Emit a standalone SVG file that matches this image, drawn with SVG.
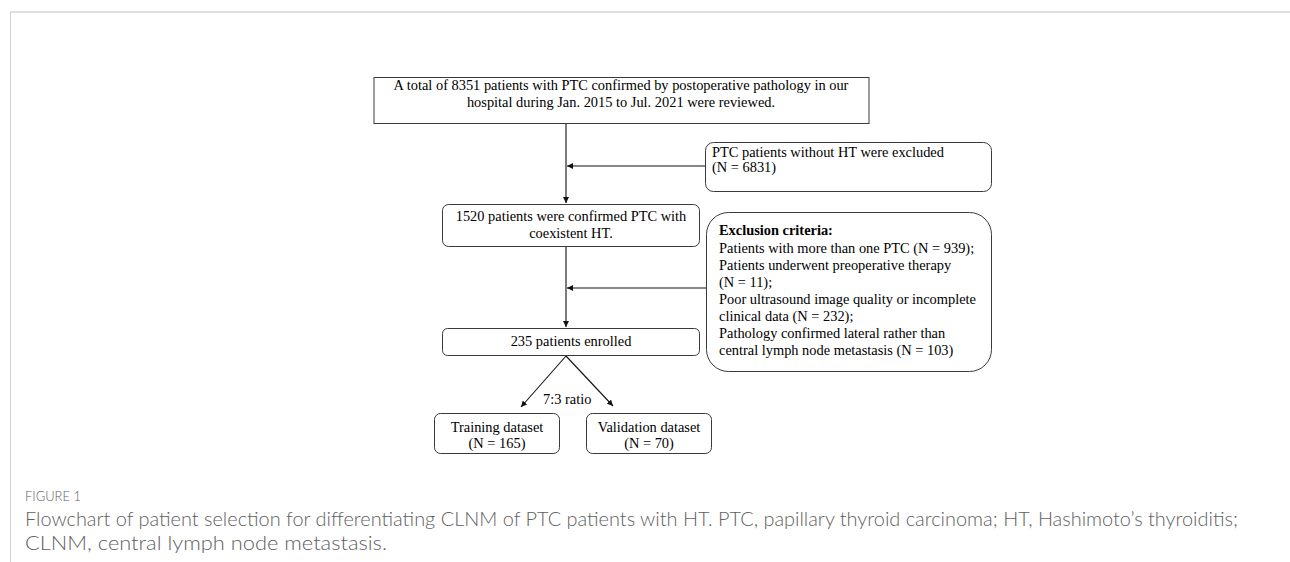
<svg xmlns="http://www.w3.org/2000/svg" width="1290" height="562" viewBox="0 0 1290 562">
<style>
.box{fill:#fff;stroke:#3a3a3a;stroke-width:1}
.t{font-family:"Liberation Serif","Times New Roman",serif;font-size:14.4px;fill:#000}
.c{text-anchor:middle}
.con{stroke:#111;stroke-width:1.1;fill:none}
.cap{font-family:Lato,"Open Sans",sans-serif;fill:#606060;font-weight:300}
</style>
<defs>
<marker id="ah" viewBox="0 0 8 8" refX="8" refY="4" markerWidth="6" markerHeight="6" markerUnits="userSpaceOnUse" orient="auto">
<path d="M0,0 L8,4 L0,8 z" fill="#111"/>
</marker>
</defs>
<rect x="0" y="0" width="1290" height="562" fill="#fff"/>
<g id="frame">
<line x1="10" y1="12" x2="1290" y2="12" stroke="#dedede" stroke-width="2"/>
<line x1="10.5" y1="12" x2="10.5" y2="562" stroke="#d0d0d0" stroke-width="1"/>
</g>
<g id="connectors">
<line class="con" x1="566" y1="124" x2="566" y2="203" marker-end="url(#ah)"/>
<line class="con" x1="705" y1="166" x2="567" y2="166" marker-end="url(#ah)"/>
<line class="con" x1="566" y1="247" x2="566" y2="327" marker-end="url(#ah)"/>
<line class="con" x1="706" y1="288" x2="567" y2="288" marker-end="url(#ah)"/>
<line class="con" x1="566" y1="356" x2="521" y2="407" marker-end="url(#ah)"/>
<line class="con" x1="566" y1="356" x2="613" y2="406" marker-end="url(#ah)"/>
<text class="t" x="543" y="404">7:3 ratio</text>
</g>
<g id="n-total">
<rect class="box" x="374" y="77.5" width="495" height="46"/>
<text class="t c" x="621" y="90">A total of 8351 patients with PTC confirmed by postoperative pathology in our</text>
<text class="t c" x="621" y="107">hospital during  Jan. 2015 to Jul. 2021 were reviewed.</text>
</g>
<g id="n-excl1">
<rect class="box" x="705.5" y="142.5" width="286" height="49" rx="8"/>
<text class="t" x="712" y="157">PTC patients without HT were excluded</text>
<text class="t" x="712" y="172">(N = 6831)</text>
</g>
<g id="n-1520">
<rect class="box" x="442.5" y="204.5" width="257" height="42" rx="6"/>
<text class="t c" x="571" y="221">1520 patients were confirmed PTC with</text>
<text class="t c" x="571" y="238">coexistent HT.</text>
</g>
<g id="n-excl2">
<rect class="box" x="706.5" y="212.5" width="285" height="159" rx="22"/>
<text class="t" x="719" y="235" font-weight="bold">Exclusion criteria:</text>
<text class="t" x="719" y="253">Patients with more than one PTC (N = 939);</text>
<text class="t" x="719" y="270">Patients underwent preoperative therapy</text>
<text class="t" x="719" y="287">(N = 11);</text>
<text class="t" x="719" y="304">Poor ultrasound image quality or incomplete</text>
<text class="t" x="719" y="321">clinical data (N = 232);</text>
<text class="t" x="719" y="338">Pathology confirmed lateral rather than</text>
<text class="t" x="719" y="355">central lymph node metastasis (N = 103)</text>
</g>
<g id="n-235">
<rect class="box" x="442.5" y="328.5" width="257" height="27" rx="5"/>
<text class="t c" x="571" y="346">235 patients enrolled</text>
</g>
<g id="n-train">
<rect class="box" x="434.5" y="413.5" width="125" height="40" rx="6"/>
<text class="t c" x="497" y="432">Training dataset</text>
<text class="t c" x="497" y="448">(N = 165)</text>
</g>
<g id="n-valid">
<rect class="box" x="586.5" y="413.5" width="125" height="40" rx="6"/>
<text class="t c" x="649" y="432">Validation dataset</text>
<text class="t c" x="649" y="448">(N = 70)</text>
</g>
<g id="caption">
<text class="cap" x="25" y="501" font-size="13" fill="#555" font-weight="400" textLength="56" lengthAdjust="spacingAndGlyphs">FIGURE 1</text>
<text class="cap" x="25" y="526" font-size="20" textLength="1213" lengthAdjust="spacingAndGlyphs">Flowchart of patient selection for differentiating CLNM of PTC patients with HT. PTC, papillary thyroid carcinoma; HT, Hashimoto’s thyroiditis;</text>
<text class="cap" x="25" y="550" font-size="20" textLength="362" lengthAdjust="spacingAndGlyphs">CLNM, central lymph node metastasis.</text>
</g>
</svg>
